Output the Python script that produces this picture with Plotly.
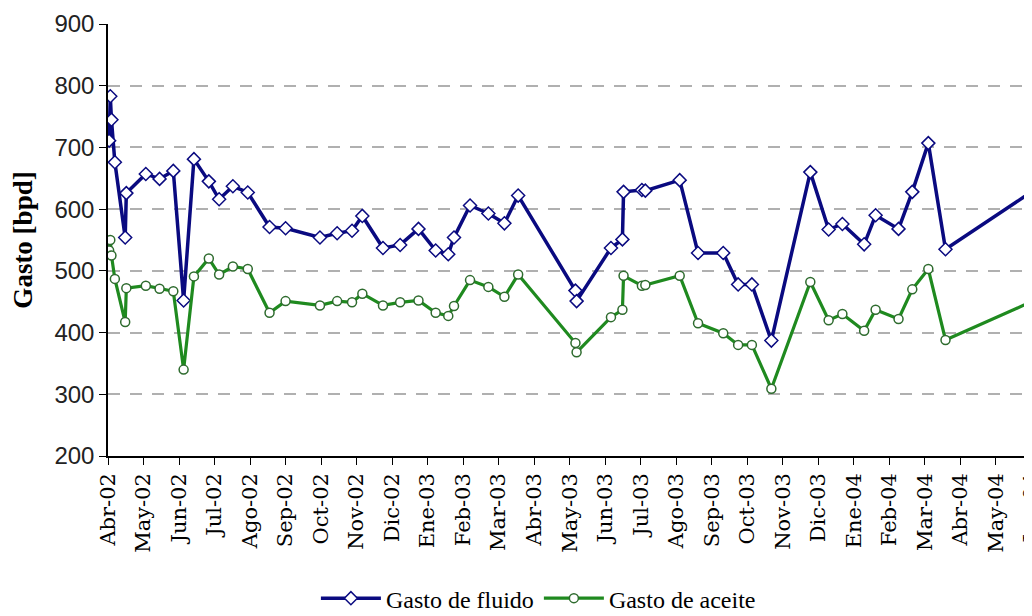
import plotly.graph_objects as go
import pandas as pd

# --- data ---
fechas = [
    "2002-04-02", "2002-04-03", "2002-04-04", "2002-04-07", "2002-04-16", "2002-04-17",
    "2002-05-04", "2002-05-16", "2002-05-28", "2002-06-06", "2002-06-15", "2002-06-28",
    "2002-07-07", "2002-07-19", "2002-08-01", "2002-08-20", "2002-09-03", "2002-10-03",
    "2002-10-18", "2002-10-31", "2002-11-09", "2002-11-27", "2002-12-12", "2002-12-28",
    "2003-01-12", "2003-01-23", "2003-01-28", "2003-02-11", "2003-02-27", "2003-03-13",
    "2003-03-25", "2003-05-14", "2003-05-15", "2003-06-14", "2003-06-24", "2003-06-25",
    "2003-07-11", "2003-07-14", "2003-08-13", "2003-08-29", "2003-09-20", "2003-10-03",
    "2003-10-15", "2003-11-01", "2003-12-05", "2003-12-21", "2004-01-02", "2004-01-21",
    "2004-01-31", "2004-02-20", "2004-03-03", "2004-03-17", "2004-04-01", "2004-06-20",
]
gasto_fluido = [
    711, 783, 745, 676, 554, 626,
    657, 649, 662, 452, 681, 645,
    616, 637, 627, 571, 569, 554,
    561, 565, 589, 537, 542, 568,
    533, 527, 554, 606, 593, 577,
    622, 468, 451, 537, 551, 628,
    631, 630, 647, 529, 529, 478,
    478, 387, 660, 567, 576, 543,
    590, 568, 628, 707, 535, 634,
]
gasto_aceite = [
    533, 550, 525, 487, 417, 472,
    476, 471, 467, 340, 491, 520,
    494, 507, 503, 432, 451, 444,
    451, 449, 463, 444, 449, 452,
    432, 427, 443, 485, 474, 458,
    494, 383, 368, 425, 437, 492,
    476, 477, 492, 415, 399, 380,
    380, 309, 482, 420, 430, 403,
    437, 422, 470, 503, 388, 454,
]
etiquetas_x = [
    "Abr-02", "May-02", "Jun-02", "Jul-02", "Ago-02", "Sep-02", "Oct-02", "Nov-02",
    "Dic-02", "Ene-03", "Feb-03", "Mar-03", "Abr-03", "May-03", "Jun-03", "Jul-03",
    "Ago-03", "Sep-03", "Oct-03", "Nov-03", "Dic-03", "Ene-04", "Feb-04", "Mar-04",
    "Abr-04", "May-04", "Jun-04",
]
inicio_eje = "2002-04-01"
paso_dias = 31
y_ticks = [200, 300, 400, 500, 600, 700, 800, 900]

t0 = pd.Timestamp(inicio_eje)
tickvals = [t0 + pd.Timedelta(days=paso_dias * k) for k in range(len(etiquetas_x))]
x_end = tickvals[-1] + pd.Timedelta(hours=12)

fig = go.Figure()
fig.add_trace(go.Scatter(
    x=fechas, y=gasto_fluido, name="Gasto de fluido", mode="lines+markers",
    line=dict(color="#0a0a80", width=3.5),
    marker=dict(symbol="diamond", size=10, color="white",
                line=dict(color="#0a0a80", width=1.5)),
))
fig.add_trace(go.Scatter(
    x=fechas, y=gasto_aceite, name="Gasto de aceite", mode="lines+markers",
    line=dict(color="#1f8a1f", width=3.2),
    marker=dict(symbol="circle", size=9, color="white",
                line=dict(color="#2e6b2e", width=1.5)),
))

# page body adds an 8px offset, so the figure is sized 1024x608
fig.update_layout(
    width=1024, height=608,
    margin=dict(l=100, r=0, t=16, b=160, autoexpand=False),
    paper_bgcolor="white", plot_bgcolor="white",
    showlegend=True,
    legend=dict(orientation="h", x=0.225, xanchor="left", y=-0.33, yanchor="middle",
                font=dict(family="Liberation Serif", size=24, color="black"),
                itemwidth=60, tracegroupgap=0),
)
fig.update_xaxes(
    type="date", range=[t0, x_end], automargin=False,
    tickvals=tickvals, ticktext=etiquetas_x, tickangle=-90,
    ticklabeloverflow="allow",
    tickfont=dict(family="DejaVu Serif", size=21, color="black"),
    showline=True, linecolor="black", linewidth=1.5,
    ticks="outside", ticklen=7, tickcolor="black",
    showgrid=False, zeroline=False,
)
fig.update_yaxes(
    range=[200, 900], tickvals=y_ticks, automargin=False,
    tickfont=dict(family="Liberation Sans", size=24, color="#222"),
    title=dict(text="<b>Gasto [bpd]</b>", font=dict(family="Liberation Serif", size=27, color="black"), standoff=14),
    showline=True, linecolor="black", linewidth=1.5,
    ticks="outside", ticklen=7, tickcolor="black",
    showgrid=True, gridcolor="#b0b0b0", griddash="12px,10px", gridwidth=1.5,
    zeroline=False,
)

fig.write_html("out.html")
